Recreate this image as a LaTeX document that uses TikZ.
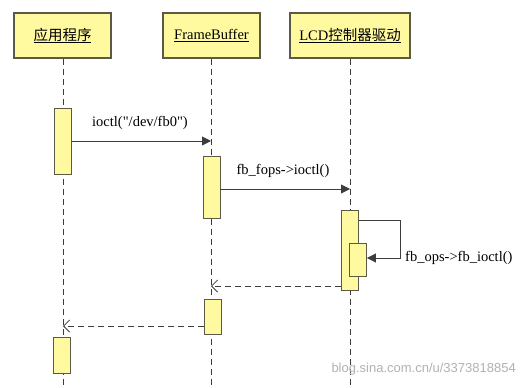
\documentclass[tikz,border=0pt]{standalone}
\usepackage{fontspec}
\setmainfont{Liberation Serif}[Ligatures=TeXOff]
\setsansfont{Liberation Sans}
\newfontfamily\cjk{Noto Sans CJK SC}
\usetikzlibrary{arrows.meta}
\definecolor{boxfill}{RGB}{255,250,160}
\definecolor{boxline}{RGB}{90,90,70}
\definecolor{lineclr}{RGB}{60,60,60}
\begin{document}
\begin{tikzpicture}[x=1pt,y=-1pt,
  head/.style={draw=boxline,line width=1.2pt,fill=boxfill,minimum height=45pt,inner sep=0pt,font=\fontsize{14.5}{16}\selectfont},
  act/.style={draw=boxline,line width=0.9pt,fill=boxfill,minimum width=17pt,inner sep=0pt,anchor=north},
  life/.style={draw=lineclr,line width=0.8pt,dash pattern=on 6pt off 4pt},
  call/.style={draw=lineclr,line width=0.9pt,-{Triangle[length=9pt,width=9pt]}},
  ret/.style={draw=lineclr,line width=0.8pt,dash pattern=on 6pt off 4pt,-{Straight Barb[length=6pt,width=12pt]}},
  lbl/.style={font=\fontsize{14.5}{16}\selectfont,inner sep=0pt}]
\useasboundingbox (0,0) rectangle (522,388);
\fill[white] (0,0) rectangle (522,388);
% headers
\node[head,minimum width=97pt] (app) at (62.5,35.5) {\underline{\cjk 应用程序}};
\node[head,minimum width=97pt] (fb) at (211.5,35.5) {\underline{FrameBuffer}};
\node[head,minimum width=120pt] (lcd) at (350,35.5) {\underline{LCD{\cjk 控制器驱动}}};
% lifeline ends
\coordinate (append) at (63,388);
\coordinate (fbend) at (211,388);
\coordinate (lcdend) at (350,388);
\draw[life] (app.south -| append) -- (append);
\draw[life] (fb.south -| fbend) -- (fbend);
\draw[life] (lcd.south -| lcdend) -- (lcdend);
% activations
\node[act,minimum height=66pt] (a1) at (63,108) {};
\node[act,minimum height=62pt] (a2) at (211.5,156) {};
\node[act,minimum height=80pt] (a3) at (350,210) {};
\node[act,minimum height=33pt] (a4) at (358,243) {};
\node[act,minimum height=35pt] (a5) at (213,299) {};
\node[act,minimum height=36pt] (a6) at (62,337) {};
% calls
\coordinate (t1) at (211,141);
\draw[call] (a1.east |- t1) -- (t1);
\node[lbl] (l1) at (140,123) {ioctl("/dev/fb0")};
\coordinate (t2) at (350,189);
\draw[call] (a2.east |- t2) -- (t2);
\node[lbl] (l2) at (283,171) {fb\textunderscore fops->ioctl()};
\coordinate (s1) at (400,220);
\coordinate (s2) at (400,258);
\draw[call] (a3.east |- s1) -- (s1) -- (s2) -- (a4.east |- s2);
\node[lbl,anchor=west] (l3) at (405,258) {fb\textunderscore ops->fb\textunderscore ioctl()};
% returns
\coordinate (r1) at (211,286);
\draw[ret] (a3.west |- r1) -- (r1);
\coordinate (r2) at (63,326);
\draw[ret] (a5.west |- r2) -- (r2);
% watermark
\node[font=\sffamily\fontsize{13}{15}\selectfont,text=gray!60,anchor=east,inner sep=0pt] (wm) at (516,369) {blog.sina.com.cn/u/3373818854};
\end{tikzpicture}
\end{document}
